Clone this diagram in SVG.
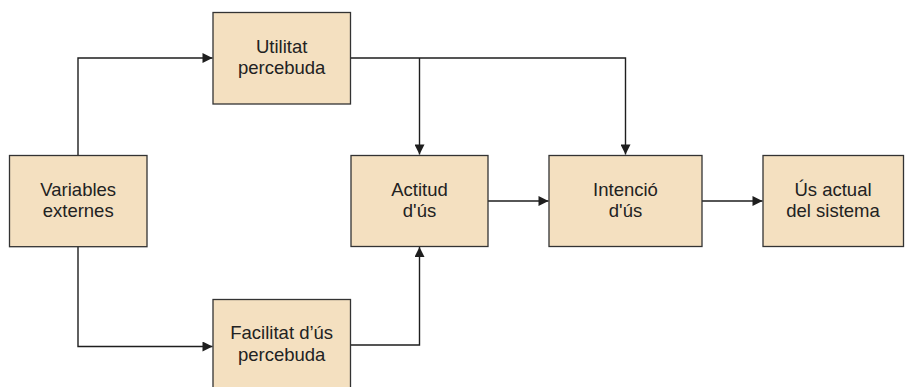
<svg xmlns="http://www.w3.org/2000/svg" width="907" height="387" viewBox="0 0 907 387">
  <style>
    .box { fill: #F4E0C0; stroke: #333333; stroke-width: 1.3; }
    .label { font-family: "Liberation Sans", Arial, sans-serif; font-size: 18.5px; fill: #222222; text-anchor: middle; }
    .wire { fill: none; stroke: #1e1e1e; stroke-width: 1.4; }
  </style>
  <defs>
    <marker id="arrow" viewBox="0 0 10 10" refX="10" refY="5" markerWidth="11" markerHeight="10" markerUnits="userSpaceOnUse" orient="auto">
      <path d="M0,0 L10,5 L0,10 Z" fill="#1e1e1e"/>
    </marker>
  </defs>
  <rect width="907" height="387" fill="#ffffff"/>

  <g id="connectors">
    <path class="wire" d="M78,155.5 V58 H212.5" marker-end="url(#arrow)"/>
    <path class="wire" d="M78,246.7 V346.5 H212.5" marker-end="url(#arrow)"/>
    <path class="wire" d="M350.5,58 H625.5 V154.5" marker-end="url(#arrow)"/>
    <path class="wire" d="M419.5,58 V154.5" marker-end="url(#arrow)"/>
    <path class="wire" d="M350.5,345 H419.5 V247" marker-end="url(#arrow)"/>
    <path class="wire" d="M488,201 H548.5" marker-end="url(#arrow)"/>
    <path class="wire" d="M702,201 H762.5" marker-end="url(#arrow)"/>
  </g>

  <g id="variables-externes">
    <rect class="box" x="9.5" y="155.5" width="137.5" height="91.2"/>
    <text class="label" x="78.2" y="195.5">Variables</text>
    <text class="label" x="78.2" y="217">externes</text>
  </g>

  <g id="utilitat-percebuda">
    <rect class="box" x="213" y="12.5" width="137.5" height="91.5"/>
    <text class="label" x="281.7" y="52.5">Utilitat</text>
    <text class="label" x="281.7" y="74">percebuda</text>
  </g>

  <g id="facilitat-us-percebuda">
    <rect class="box" x="213" y="299.5" width="137.5" height="91.5"/>
    <text class="label" x="281.7" y="339">Facilitat d’ús</text>
    <text class="label" x="281.7" y="360.5">percebuda</text>
  </g>

  <g id="actitud-us">
    <rect class="box" x="351" y="155.5" width="137" height="91"/>
    <text class="label" x="419.5" y="195.5">Actitud</text>
    <text class="label" x="419.5" y="217">d'ús</text>
  </g>

  <g id="intencio-us">
    <rect class="box" x="549" y="155.5" width="153" height="91"/>
    <text class="label" x="625.5" y="195.5">Intenció</text>
    <text class="label" x="625.5" y="217">d'ús</text>
  </g>

  <g id="us-actual-sistema">
    <rect class="box" x="763" y="155.5" width="140.5" height="91"/>
    <text class="label" x="833" y="195.5">Ús actual</text>
    <text class="label" x="833" y="217">del sistema</text>
  </g>
</svg>
